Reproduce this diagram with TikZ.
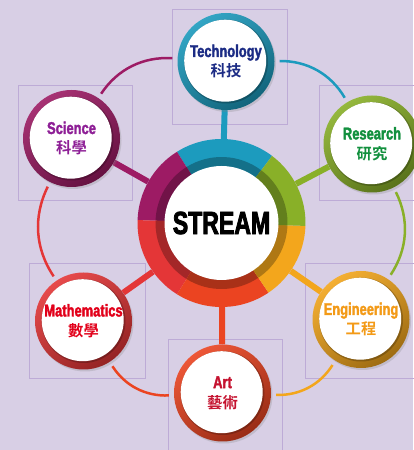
\documentclass[tikz,border=0pt]{standalone}
\usepackage{fontspec}
\usepackage{xcolor}
\usetikzlibrary{backgrounds, shadows}

\newfontfamily\labelfont{Liberation Sans}[UprightFont={* Bold}, FakeStretch=0.76, FakeBold=2]
\newfontfamily\hubfont{Liberation Sans}[UprightFont={* Bold}, FakeStretch=0.72, FakeBold=2.5]
\newfontfamily\cjk{Noto Sans CJK TC}[UprightFont={* Bold}, Scale=0.9]

\definecolor{backdrop}{HTML}{D8CFE5}
\definecolor{frame}{HTML}{BDABD6}
\definecolor{techc}{HTML}{1C9BBE}
\definecolor{resc}{HTML}{89B028}
\definecolor{engc}{HTML}{F3A61C}
\definecolor{artc}{HTML}{EB4421}
\definecolor{mathc}{HTML}{E43637}
\definecolor{scic}{HTML}{9D1B64}
\definecolor{techt}{HTML}{1C2C85}
\definecolor{rest}{HTML}{12903E}
\definecolor{engt}{HTML}{F39A17}
\definecolor{artt}{HTML}{C5122F}
\definecolor{matht}{HTML}{E2001A}
\definecolor{scit}{HTML}{8E1F96}

\begin{document}
\begin{tikzpicture}[x=1pt, y=1pt,
    topic/.style={circle, minimum size=97pt, inner sep=0pt, align=center,
        top color=#1!90!white, bottom color=#1!65!black, shading angle=35,
        drop shadow={shadow xshift=1.5pt, shadow yshift=-2pt, opacity=.25},
        path picture={
            \fill[black, opacity=.22] (path picture bounding box.center) circle[radius=42pt];
            \fill[white] ([shift={(-0.8pt,0.8pt)}]path picture bounding box.center) circle[radius=41pt];
        },
        font=\labelfont\fontsize{17}{20}\selectfont},
    spoke/.style={draw=#1, line width=6pt},
    link/.style={draw=#1, line width=2.5pt, bend left=30, shorten >=5pt, shorten <=5pt}]

    \useasboundingbox (0,0) rectangle (413,450);
    \begin{scope}[on background layer]
        \fill[backdrop] (0,0) rectangle (413,450);
    \end{scope}

    % hub and the six topics
    \node[circle, minimum size=168pt, inner sep=0pt,
          font=\hubfont\fontsize{32}{32}\selectfont] (hub) at (221.5,227) {STREAM};

    \node[topic=techc, text=techt] (tech) at (226,388.5) {Technology\\{\cjk 科技}};
    \node[topic=resc, text=rest] (res) at (372,306) {Research\\{\cjk 研究}};
    \node[topic=engc, text=engt] (eng) at (361,130.5) {Engineering\\{\cjk 工程}};
    \node[topic=artc, text=artt] (art) at (222.5,57) {Art\\{\cjk 藝術}};
    \node[topic=mathc, text=matht] (math) at (83.5,129) {Mathematics\\{\cjk 數學}};
    \node[topic=scic, text=scit] (sci) at (71.5,311.5) {Science\\{\cjk 科學}};

    \begin{scope}[on background layer]
        % frames behind the topics
        \foreach \xa/\ya/\xb/\yb in {172/326/287/441, 18/250/132/365, 319/250/434/365,
                                     29/72/145/187, 305/72/420/187, 168/-5/282/111}
            \draw[frame, line width=0.8pt] (\xa,\ya) rectangle (\xb,\yb);

        % outer ring
        \path
        (tech) edge[link=techc] (res)
        (res)  edge[link=resc]  (eng)
        (eng)  edge[link=engc]  (art)
        (art)  edge[link=artc]  (math)
        (math) edge[link=mathc] (sci)
        (sci)  edge[link=scic]  (tech);

        % spokes
        \path
        (hub) edge[spoke=techc] (tech)
        (hub) edge[spoke=resc]  (res)
        (hub) edge[spoke=engc]  (eng)
        (hub) edge[spoke=artc]  (art)
        (hub) edge[spoke=mathc] (math)
        (hub) edge[spoke=scic]  (sci);

        % coloured hub ring
        \foreach \a/\b/\c in {53/122/techc, 122/178/scic, 178/238/mathc,
                              238/304/artc, 304/358/engc, 358/413/resc} {
            \fill[\c] (hub.center) -- ++(\a:84pt) arc[start angle=\a, end angle=\b, radius=84pt] -- cycle;
            \fill[\c!72!black] (hub.center) -- ++(\a:66pt) arc[start angle=\a, end angle=\b, radius=66pt] -- cycle;
        }
        \fill[white] (hub.center) circle[radius=57pt];
    \end{scope}

\end{tikzpicture}
\end{document}
